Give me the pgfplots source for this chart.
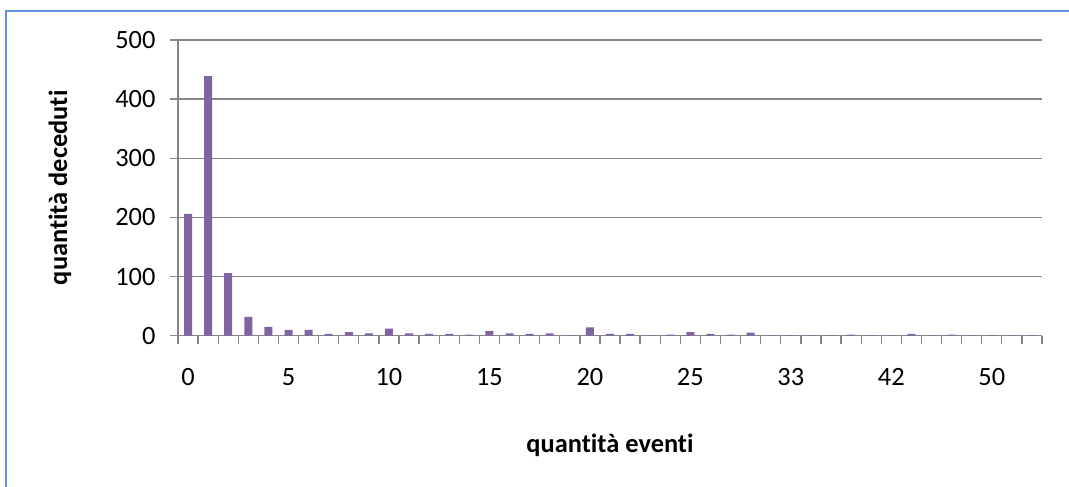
\documentclass[border=0pt]{standalone}
\usepackage{pgfplots}
\pgfplotsset{compat=1.18}
\usepackage{fontspec}
\setmainfont{Carlito}[Ligatures={NoCommon}]
\definecolor{barpurple}{RGB}{128,100,162}
\definecolor{gridgray}{RGB}{134,134,134}
\definecolor{frameblue}{RGB}{100,150,222}
\begin{document}
\begin{tikzpicture}
\useasboundingbox (0,0) rectangle (1069bp,487bp);
\fill[white] (0,0) rectangle (1069bp,487bp);
\draw[frameblue, line width=2bp] (6bp,-5bp) -- (6bp,476.3bp) -- (1075bp,476.3bp);
\begin{axis}[
  at={(178bp,151.3bp)}, anchor=south west,
  scale only axis, width=864bp, height=295.7bp,
  xmin=-0.5, xmax=42.5, ymin=0, ymax=500,
  axis lines*=left,
  axis line style={gridgray, line width=1.3bp},
  tick style={gridgray, line width=1.3bp},
  tick align=outside,
  xtick={0,5,10,15,20,25,30,35,40},
  xticklabels={0,5,10,15,20,25,33,42,50},
  minor xtick={-0.5,0.5,...,42.5},
  major x tick style={draw=none},
  minor tick length=8bp,
  major tick length=8bp,
  ytick={0,100,...,500},
  ymajorgrids, grid style={gridgray, line width=1.3bp},
  /pgf/number format/assume math mode=true,
  tick label style={font=\fontsize{26.5}{31}\selectfont, text=black},
  yticklabel style={xshift=-11bp},
  xticklabel style={yshift=-21bp},
  xlabel={quantità eventi}, ylabel={quantità deceduti},
  every axis x label/.style={at={(axis description cs:0.5,-0.3697)}, anchor=center, font=\fontsize{26.5}{31}\selectfont\bfseries},
  every axis y label/.style={at={(axis description cs:-0.1366,0.5)}, anchor=center, rotate=90, font=\fontsize{26.5}{31}\selectfont\bfseries},
  ybar, bar width=8bp,
]
\addplot[fill=barpurple, draw=none] coordinates {
(0,206) (1,439) (2,106) (3,32) (4,15) (5,10) (6,10) (7,3) (8,6) (9,4)
(10,12) (11,4) (12,3) (13,3) (14,2) (15,8) (16,4) (17,3) (18,4) (19,1)
(20,14) (21,3) (22,3) (23,1) (24,2) (25,6) (26,3) (27,2) (28,5) (29,1)
(30,1) (31,1) (32,1) (33,2) (34,1) (35,1) (36,3) (37,1) (38,2) (39,1)
(40,1) (41,1) (42,1)
};
\end{axis}
\end{tikzpicture}
\end{document}
